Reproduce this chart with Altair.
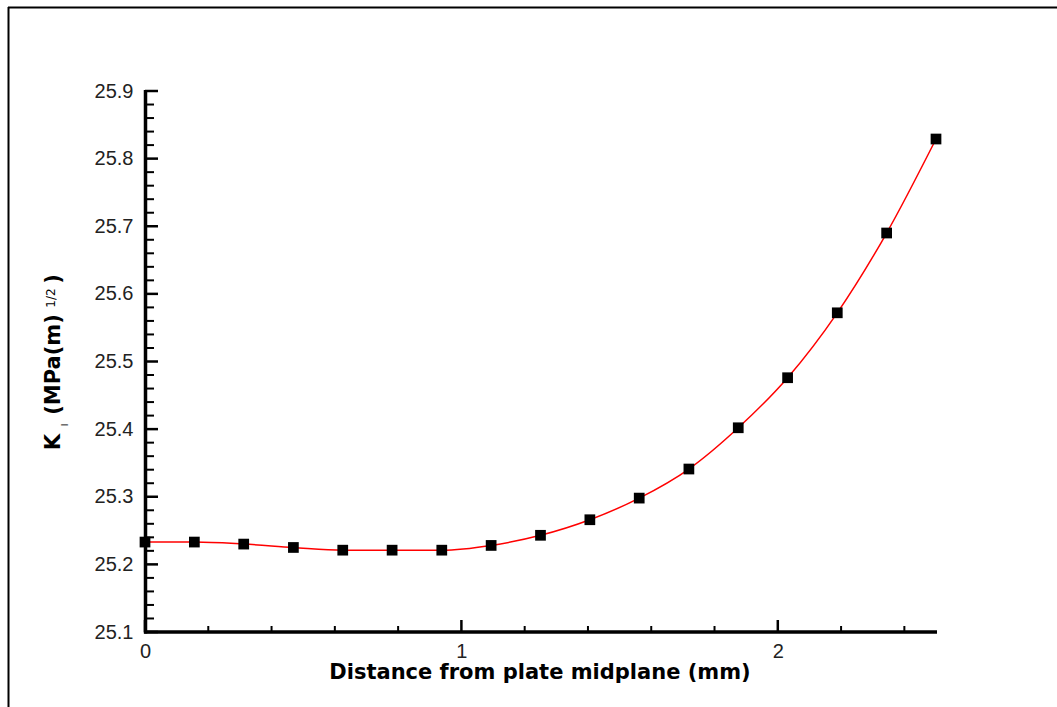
import altair as alt
import pandas as pd

# data
distance_mm = [0.0, 0.156, 0.312, 0.469, 0.625, 0.781, 0.938, 1.094, 1.25,
               1.406, 1.562, 1.719, 1.875, 2.031, 2.188, 2.344, 2.5]
k_values = [25.233, 25.233, 25.230, 25.225, 25.221, 25.221, 25.221, 25.228, 25.243,
            25.266, 25.298, 25.341, 25.402, 25.476, 25.572, 25.690, 25.829]

x_major = [0, 1, 2]
x_minor = [0.2, 0.4, 0.6, 0.8, 1.2, 1.4, 1.6, 1.8, 2.2, 2.4]
y_major = [25.1, 25.2, 25.3, 25.4, 25.5, 25.6, 25.7, 25.8, 25.9]
y_minor = [round(25.1 + 0.02 * i, 2) for i in range(41) if i % 5 != 0]

x_title = "Distance from plate midplane (mm)"

W, H = 791, 541
PAD_L, PAD_T = 145, 91

df = pd.DataFrame({"d": distance_mm, "k": k_values})
xs = alt.Scale(domain=[0, 2.5], nice=False, zero=False)
ys = alt.Scale(domain=[25.1, 25.9], nice=False, zero=False)

base = alt.Chart(df)

line = base.mark_line(color="#ff0000", strokeWidth=1.5, interpolate="monotone").encode(
    x=alt.X("d:Q", scale=xs, axis=alt.Axis(
        values=x_major, format="d", title=None, tickSize=0, labelPadding=9,
        labelFlush=False, labelFont="Liberation Sans", labelFontSize=20,
        labelColor="#222222", domain=False, grid=False)),
    y=alt.Y("k:Q", scale=ys, axis=alt.Axis(
        values=y_major, format=".1f", title=None, tickSize=0, labelPadding=12,
        labelFlush=False, labelFont="Liberation Sans", labelFontSize=20,
        labelColor="#222222", domain=False, grid=False)),
)
points = base.mark_point(shape="square", filled=True, color="black", size=115, opacity=1).encode(
    x=alt.X("d:Q", scale=xs), y=alt.Y("k:Q", scale=ys))

ymaj = alt.Chart(pd.DataFrame({"k": y_major})).mark_rule(color="black", strokeWidth=2.5).encode(
    y=alt.Y("k:Q", scale=ys), x=alt.value(0), x2=alt.value(13))
ymin = alt.Chart(pd.DataFrame({"k": y_minor})).mark_rule(color="black", strokeWidth=2).encode(
    y=alt.Y("k:Q", scale=ys), x=alt.value(0), x2=alt.value(9))
xmaj = alt.Chart(pd.DataFrame({"d": x_major})).mark_rule(color="black", strokeWidth=2.5).encode(
    x=alt.X("d:Q", scale=xs), y=alt.value(H), y2=alt.value(H - 12))
xmin = alt.Chart(pd.DataFrame({"d": x_minor})).mark_rule(color="black", strokeWidth=2).encode(
    x=alt.X("d:Q", scale=xs), y=alt.value(H), y2=alt.value(H - 6))

one = pd.DataFrame({"a": [0]})

yaxis_line = alt.Chart(one).mark_rule(color="black", strokeWidth=3.5).encode(
    x=alt.value(0.5), y=alt.value(-1), y2=alt.value(H + 1.5))
xaxis_line = alt.Chart(one).mark_rule(color="black", strokeWidth=3.5).encode(
    x=alt.value(-1), x2=alt.value(W + 1), y=alt.value(H))

def txt(s, x, y, size, bold=True, angle=270, baseline="alphabetic"):
    return alt.Chart(one).mark_text(
        font="DejaVu Sans", fontSize=size, fontWeight="bold" if bold else "normal",
        angle=angle, align="center", baseline=baseline, color="black").encode(
        x=alt.value(x), y=alt.value(y), text=alt.value(s))

xt = txt(x_title, 540 - PAD_L, 679 - PAD_T, 21, angle=0)
yk = txt("K", 60 - PAD_L, 442 - PAD_T, 21)
yi = txt("I", 68 - PAD_L, 425 - PAD_T, 9, bold=False)
ymain = txt("(MPa(m)", 60 - PAD_L, 364.5 - PAD_T, 21)
ysup = txt("1/2", 55 - PAD_L, 298 - PAD_T, 12, bold=False)
yclose = txt(")", 60 - PAD_L, 279 - PAD_T, 21)

frame_top = alt.Chart(one).mark_rule(color="black", strokeWidth=2).encode(
    x=alt.value(8 - PAD_L), x2=alt.value(1057 - PAD_L), y=alt.value(7.5 - PAD_T))
frame_left = alt.Chart(one).mark_rule(color="black", strokeWidth=2).encode(
    x=alt.value(8.5 - PAD_L), y=alt.value(7 - PAD_T), y2=alt.value(707 - PAD_T))

chart = alt.layer(
    frame_top, frame_left, ymaj, ymin, xmaj, xmin, yaxis_line, xaxis_line, line, points,
    xt, yk, yi, ymain, ysup, yclose
).properties(
    width=W, height=H,
    autosize=alt.AutoSizeParams(type="none"),
    padding={"left": PAD_L, "top": PAD_T, "right": 1057 - PAD_L - W, "bottom": 707 - PAD_T - H},
    background="white",
).configure_view(stroke=None)

chart.save("out.html", embed_options={"renderer": "svg", "actions": False})
